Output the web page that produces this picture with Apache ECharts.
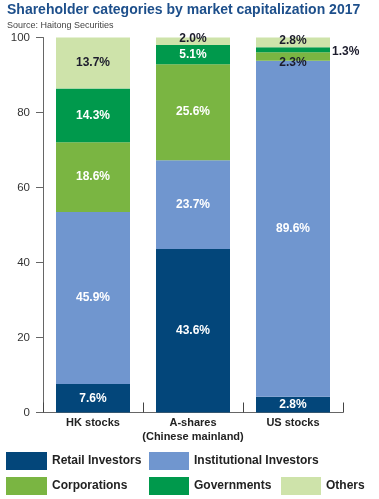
<!DOCTYPE html>
<html>
<head>
<meta charset="utf-8">
<script src="https://cdn.jsdelivr.net/npm/echarts@6/dist/echarts.min.js"></script>
<style>
html,body{margin:0;padding:0;background:#fff;}
#chart{width:379px;height:499px;}
</style>
</head>
<body>
<div id="chart"></div>
<script>
// Categories and tick labels
var categories = ['HK stocks', 'A-shares\n(Chinese mainland)', 'US stocks'];
var yTicks = [0, 20, 40, 60, 80, 100];

// Bar heights as drawn (percent of market cap)
var retail = [7.6, 43.6, 4.2];
var institutional = [45.9, 23.7, 89.6];
var corporations = [18.6, 25.6, 2.3];
var governments = [14.3, 5.1, 1.3];
var others = [13.7, 2.0, 2.8];

// Printed labels
var retailLabels = ['7.6%', '43.6%', '2.8%'];
var institutionalLabels = ['45.9%', '23.7%', '89.6%'];
var corporationsLabels = ['18.6%', '25.6%', '2.3%'];
var governmentsLabels = ['14.3%', '5.1%', '1.3%'];
var othersLabels = ['13.7%', '2.0%', '2.8%'];

var SANS = '"Liberation Sans", Arial, sans-serif';

var C_RETAIL = '#03467a', C_INST = '#7096cf', C_CORP = '#7ab542', C_GOV = '#00994c', C_OTH = '#cee3aa';
var DARK = '#1c1c2c';

function labelCfg(arr) {
  return {
    show: true,
    position: 'inside',
    fontFamily: SANS,
    fontWeight: 'bold',
    fontSize: 12,
    formatter: function (p) { return arr[p.dataIndex]; }
  };
}
function dataWith(values, colorsLabel, overrides) {
  return values.map(function (v, i) {
    var d = { value: v, label: { color: colorsLabel[i] } };
    if (overrides && overrides[i]) {
      for (var k in overrides[i]) d.label[k] = overrides[i][k];
    }
    return d;
  });
}

var legendText = { fontFamily: SANS, fontWeight: 'bold', fontSize: 12, color: '#222' };

var chart = echarts.init(document.getElementById('chart'), null, { renderer: 'canvas' });
var option = {
  animation: false,
  backgroundColor: '#fff',
  title: {
    text: 'Shareholder categories by market capitalization 2017',
    subtext: 'Source: Haitong Securities',
    left: 6,
    top: 3,
    padding: [0, 1],
    itemGap: 4,
    textStyle: { fontFamily: SANS, fontWeight: 'bold', fontSize: 14, color: '#1d4f8b' },
    subtextStyle: { fontFamily: SANS, fontSize: 9, color: '#444' }
  },
  legend: [
    {
      data: ['Retail Investors', 'Corporations'],
      orient: 'vertical', left: 6, top: 452, padding: 0, itemGap: 7,
      itemWidth: 41, itemHeight: 18, icon: 'rect', textStyle: legendText
    },
    {
      data: ['Institutional Investors', 'Governments'],
      orient: 'vertical', left: 149, top: 452, padding: 0, itemGap: 7,
      itemWidth: 40, itemHeight: 18, icon: 'rect', textStyle: legendText
    },
    {
      data: ['Others'],
      orient: 'vertical', left: 281, top: 477, padding: 0, itemGap: 7,
      itemWidth: 40, itemHeight: 18, icon: 'rect', textStyle: legendText
    }
  ],
  grid: { left: 43, right: 36, top: 37.5, bottom: 86.5, containLabel: false },
  xAxis: {
    type: 'category',
    data: categories,
    axisLine: { lineStyle: { color: '#666', width: 1 } },
    axisTick: { show: true, inside: true, length: 10, lineStyle: { color: '#444' } },
    axisLabel: { interval: 0, fontFamily: SANS, fontWeight: 'bold', fontSize: 11, color: '#222', margin: 3, lineHeight: 14 }
  },
  yAxis: {
    type: 'value',
    min: yTicks[0],
    max: yTicks[yTicks.length - 1],
    interval: yTicks[1] - yTicks[0],
    axisLine: { show: true, lineStyle: { color: '#666', width: 1 } },
    axisTick: { show: true, length: 7, lineStyle: { color: '#666' } },
    splitLine: { show: false },
    axisLabel: { fontFamily: SANS, fontSize: 11.5, color: '#333', margin: 13 }
  },
  series: [
    {
      name: 'Retail Investors', type: 'bar', stack: 'a', barWidth: 74,
      itemStyle: { color: C_RETAIL },
      label: labelCfg(retailLabels),
      data: dataWith(retail, ['#fff', '#fff', '#fff'])
    },
    {
      name: 'Institutional Investors', type: 'bar', stack: 'a', barWidth: 74,
      itemStyle: { color: C_INST },
      label: labelCfg(institutionalLabels),
      data: dataWith(institutional, ['#fff', '#fff', '#fff'])
    },
    {
      name: 'Corporations', type: 'bar', stack: 'a', barWidth: 74,
      itemStyle: { color: C_CORP },
      label: labelCfg(corporationsLabels),
      data: dataWith(corporations, ['#fff', '#fff', DARK], [null, null, { offset: [0, 6] }])
    },
    {
      name: 'Governments', type: 'bar', stack: 'a', barWidth: 74,
      itemStyle: { color: C_GOV },
      label: labelCfg(governmentsLabels),
      data: dataWith(governments, ['#fff', '#fff', DARK], [null, null, { position: 'right', distance: 2, offset: [0, 2] }])
    },
    {
      name: 'Others', type: 'bar', stack: 'a', barWidth: 74,
      itemStyle: { color: C_OTH },
      label: labelCfg(othersLabels),
      data: dataWith(others, [DARK, DARK, DARK], [null, { offset: [0, -3] }, { offset: [0, -2] }])
    }
  ]
};
chart.setOption(option);
</script>
</body>
</html>
